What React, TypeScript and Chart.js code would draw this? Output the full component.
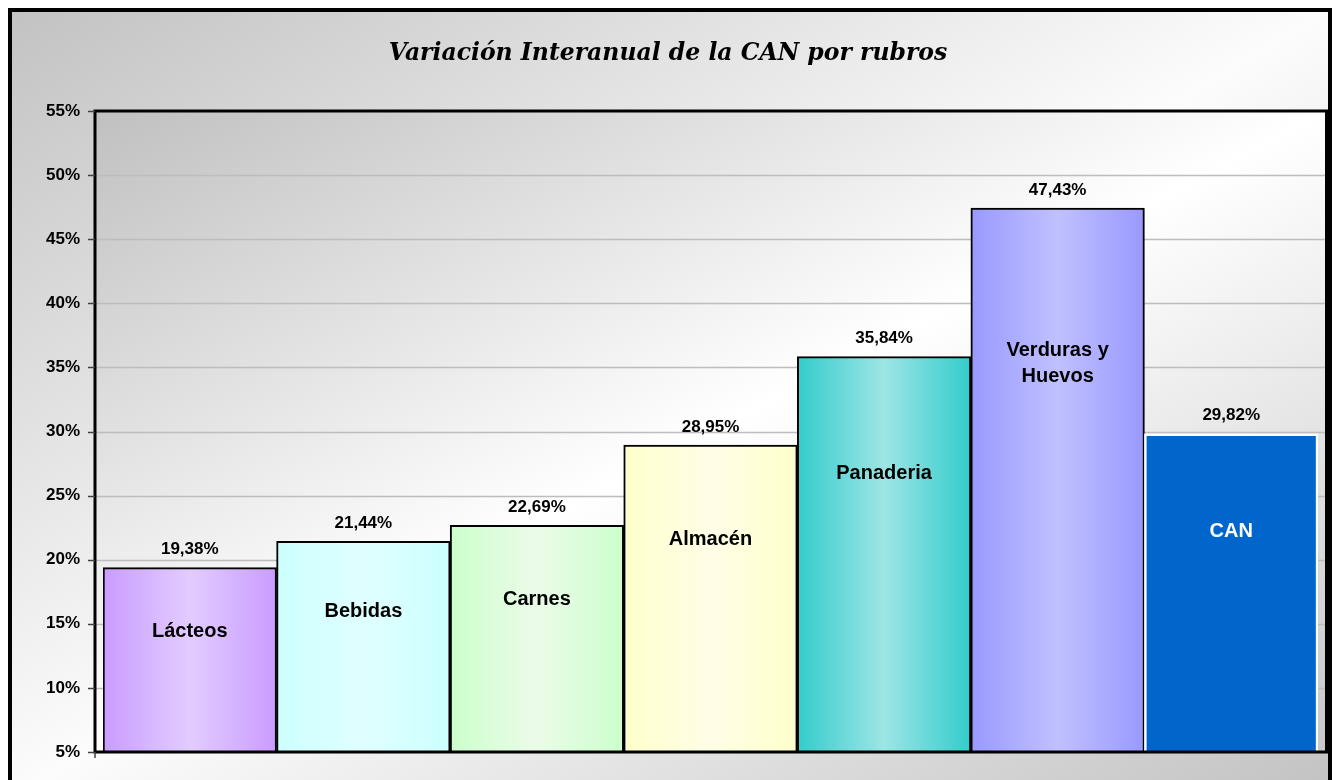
import React, { useEffect, useRef } from "react";
import { Chart, registerables } from "chart.js";

Chart.register(...registerables);

const title = "Variación Interanual de la CAN por rubros";
const categories: string[][] = [
  ["Lácteos"],
  ["Bebidas"],
  ["Carnes"],
  ["Almacén"],
  ["Panaderia"],
  ["Verduras y", "Huevos"],
  ["CAN"],
];
const values = [19.38, 21.44, 22.69, 28.95, 35.84, 47.43, 29.82];
const valueLabels = ["19,38%", "21,44%", "22,69%", "28,95%", "35,84%", "47,43%", "29,82%"];
const yMin = 5;
const yMax = 55;
const yStep = 5;
const edgeColors = ["#c99cff", "#ccffff", "#ccffcc", "#ffffcc", "#33cccc", "#9999ff", "#0066cc"];
const centerColors = ["#e2ccff", "#e0ffff", "#ebfbe8", "#fffde6", "#9ee5e5", "#c0c0ff", "#0066cc"];
const borderColors = ["#000000", "#000000", "#000000", "#000000", "#000000", "#000000", "#ffffff"];
const labelColors = ["#000000", "#000000", "#000000", "#000000", "#000000", "#000000", "#ffffff"];

const FONT = "Arial, 'Liberation Sans', sans-serif";
const W = 1336;
const H = 800;
const FRAME_L = 8;
const FRAME_T = 8;
const FRAME_R = 1332;

function diagFill(ctx: CanvasRenderingContext2D, x: number, y: number, w: number, h: number, stops: [number, string][]) {
  ctx.save();
  ctx.translate(x, y);
  ctx.scale(w, h);
  const g = ctx.createLinearGradient(0, 0, 1, 1);
  stops.forEach(([o, c]) => g.addColorStop(o, c));
  ctx.fillStyle = g;
  ctx.fillRect(0, 0, 1, 1);
  ctx.restore();
}

const decorPlugin = {
  id: "decor",
  beforeDraw(chart: any) {
    const { ctx, width, height, chartArea: ca } = chart;
    const y = chart.scales.y;
    ctx.save();
    ctx.fillStyle = "#ffffff";
    ctx.fillRect(0, 0, width, height);
    diagFill(ctx, FRAME_L, FRAME_T, FRAME_R - FRAME_L, height - FRAME_T, [
      [0, "#c2c2c2"],
      [0.5, "#fcfcfc"],
      [1, "#c2c2c2"],
    ]);
    const L = ca.left - 8;
    const R = ca.right + 8.5;
    diagFill(ctx, L, ca.top, R - L, ca.bottom - ca.top, [
      [0, "#c0c0c0"],
      [0.5, "#ffffff"],
      [1, "#c8c8c8"],
    ]);
    // gridlines
    ctx.strokeStyle = "#bdbdbd";
    ctx.lineWidth = 1.5;
    for (let v = yMin + yStep; v < yMax; v += yStep) {
      const py = Math.round(y.getPixelForValue(v)) + 0.5;
      ctx.beginPath();
      ctx.moveTo(L, py);
      ctx.lineTo(R, py);
      ctx.stroke();
    }
    // title
    ctx.fillStyle = "#000000";
    ctx.font = "italic bold 23.5px 'DejaVu Serif', serif";
    ctx.textAlign = "center";
    ctx.textBaseline = "middle";
    ctx.fillText(title, 668, 54);
    ctx.restore();
  },
  afterDatasetsDraw(chart: any) {
    const { ctx, height, chartArea: ca } = chart;
    const y = chart.scales.y;
    const meta = chart.getDatasetMeta(0);
    const L = ca.left - 8;
    const R = ca.right + 8.5;
    ctx.save();
    // plot frame
    ctx.strokeStyle = "#000000";
    ctx.lineWidth = 3;
    ctx.beginPath();
    ctx.moveTo(L, ca.bottom);
    ctx.lineTo(L, ca.top);
    ctx.lineTo(R, ca.top);
    ctx.lineTo(R, ca.bottom);
    ctx.closePath();
    ctx.stroke();
    // tick marks
    ctx.strokeStyle = "#404040";
    ctx.lineWidth = 1.5;
    for (let v = yMin; v <= yMax; v += yStep) {
      const py = Math.round(y.getPixelForValue(v)) + 0.5;
      ctx.beginPath();
      ctx.moveTo(L - 7, py);
      ctx.lineTo(L, py);
      ctx.stroke();
    }
    ctx.beginPath();
    ctx.moveTo(L, ca.bottom);
    ctx.lineTo(L, ca.bottom + 6);
    ctx.stroke();
    // outer frame
    ctx.strokeStyle = "#000000";
    ctx.lineWidth = 4;
    ctx.strokeRect(FRAME_L + 2, FRAME_T + 2, FRAME_R - FRAME_L - 4, height);
    // labels
    ctx.textAlign = "center";
    ctx.textBaseline = "middle";
    meta.data.forEach((bar: any, i: number) => {
      ctx.fillStyle = "#000000";
      ctx.font = `bold 17px ${FONT}`;
      ctx.fillText(valueLabels[i], bar.x, bar.y - 18);
      ctx.fillStyle = labelColors[i];
      ctx.font = `bold 20px ${FONT}`;
      const lines = categories[i];
      const cy = y.getPixelForValue(values[i] * 0.745);
      const lh = 26;
      lines.forEach((t, k) => {
        ctx.fillText(t, bar.x, cy + (k - (lines.length - 1) / 2) * lh);
      });
    });
    ctx.restore();
  },
};

export default function App() {
  const ref = useRef<HTMLCanvasElement | null>(null);
  useEffect(() => {
    if (!ref.current) return;
    const chart = new Chart(ref.current, {
      type: "bar",
      data: {
        labels: categories.map((c) => c.join(" ")),
        datasets: [
          {
            data: values,
            backgroundColor: (c: any) => {
              const ch = c.chart;
              const ca = ch.chartArea;
              const i = c.dataIndex;
              if (!ca || i === undefined) return edgeColors[i ?? 0];
              const xs = ch.scales.x;
              const cx = xs.getPixelForValue(i);
              const half = ca.width / categories.length / 2;
              const g = ch.ctx.createLinearGradient(cx - half, 0, cx + half, 0);
              g.addColorStop(0, edgeColors[i]);
              g.addColorStop(0.5, centerColors[i]);
              g.addColorStop(1, edgeColors[i]);
              return g;
            },
            borderColor: borderColors,
            borderWidth: (c: any) => (c.dataIndex === values.length - 1 ? 2.5 : 2),
            borderSkipped: false,
            categoryPercentage: 1,
            barPercentage: 1,
          },
        ],
      },
      options: {
        animation: false,
        responsive: false,
        devicePixelRatio: 1,
        layout: { padding: { top: 111, right: 18, bottom: 48, left: 0 } },
        plugins: {
          legend: { display: false },
          title: { display: false },
          tooltip: { enabled: false },
        },
        scales: {
          x: { display: false },
          y: {
            min: yMin,
            max: yMax,
            afterFit: (s: any) => {
              s.width = 103;
            },
            grid: { display: false, drawTicks: false },
            border: { display: false },
            ticks: {
              stepSize: yStep,
              padding: 23,
              color: "#000000",
              font: { family: FONT, size: 17, weight: "bold" },
              callback: (v: any) => `${v}%`,
            },
          },
        },
      },
      plugins: [decorPlugin],
    });
    return () => chart.destroy();
  }, []);
  return (
    <div style={{ position: "fixed", left: 0, top: 0, width: W, height: 780, overflow: "hidden" }}>
      <canvas ref={ref} width={W} height={H} style={{ display: "block" }} />
    </div>
  );
}
